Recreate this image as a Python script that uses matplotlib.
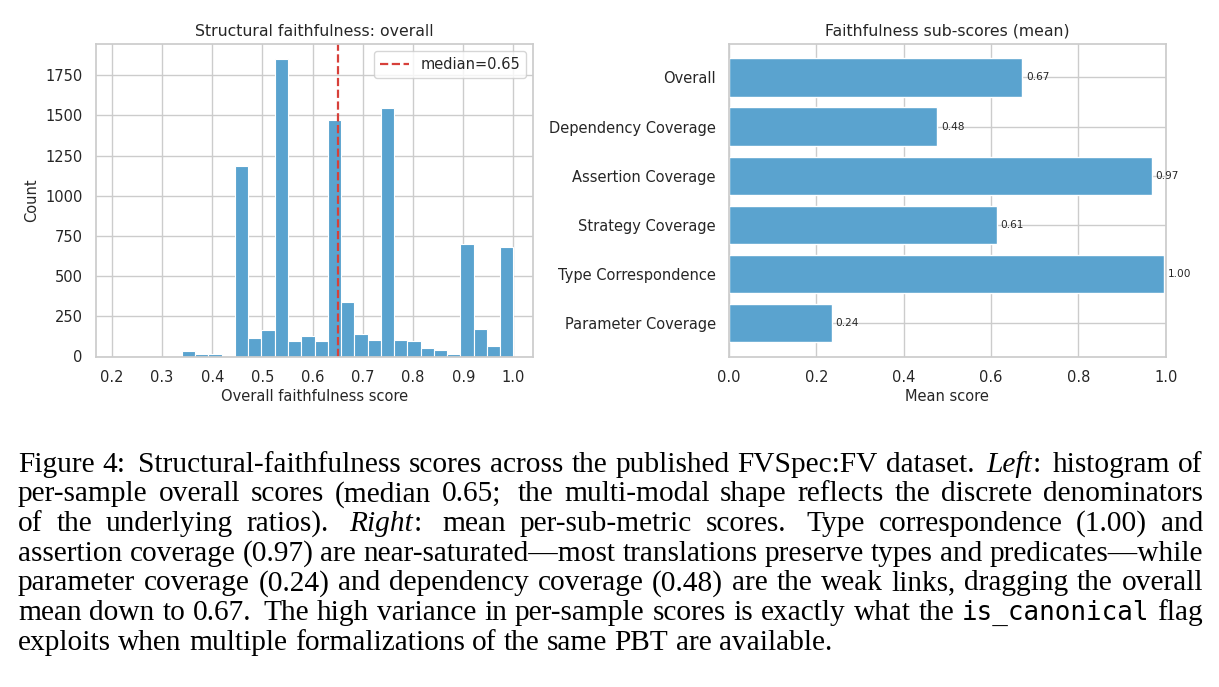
import re
import numpy as np
import matplotlib
matplotlib.use("Agg")
import matplotlib.pyplot as plt
import seaborn as sns

sns.set_theme(style="whitegrid")
plt.rcParams['font.family'] = ['DejaVu Sans']

# ---------------- data ----------------
hist_min = 0.2075
hist_max = 1.0
n_bins = 30
hist_counts = [0, 0, 0, 0, 0, 33, 15, 13, 0, 1184,
               117, 163, 1852, 94, 129, 94, 1472, 342, 138, 100,
               1548, 102, 94, 52, 42, 17, 697, 169, 67, 679]
median_value = 0.65
hist_yticks = [0, 250, 500, 750, 1000, 1250, 1500, 1750]

sub_labels = ["Overall", "Dependency Coverage", "Assertion Coverage",
              "Strategy Coverage", "Type Correspondence", "Parameter Coverage"]
sub_means = [0.672, 0.477, 0.968, 0.614, 0.997, 0.236]

caption_lines = [
    "Figure 4: Structural-faithfulness scores across the published FVSpec:FV dataset. *Left*: histogram of",
    "per-sample overall scores (median 0.65; the multi-modal shape reflects the discrete denominators",
    "of the underlying ratios). *Right*: mean per-sub-metric scores. Type correspondence (1.00) and",
    "assertion coverage (0.97) are near-saturated\u2014most translations preserve types and predicates\u2014while",
    "parameter coverage (0.24) and dependency coverage (0.48) are the weak links, dragging the overall",
    "mean down to 0.67. The high variance in per-sample scores is exactly what the `is_canonical` flag",
    "exploits when multiple formalizations of the same PBT are available.",
]

# ---------------- style ----------------
BAR = "#5aa3cf"
RED = "#d7403a"
TXT = "#262626"
FS = 10.5
W, H = 1219, 687

fig = plt.figure(figsize=(W / 100, H / 100), dpi=100)

def frac_box(x0, y0, x1, y1):
    return [x0 / W, 1 - y1 / H, (x1 - x0) / W, (y1 - y0) / H]

ax1 = fig.add_axes(frac_box(95.7, 44, 533.3, 356.5))
ax2 = fig.add_axes(frac_box(729, 44, 1165.7, 356.5))

# ---- histogram ----
edges = np.linspace(hist_min, hist_max, n_bins + 1)
centers = (edges[:-1] + edges[1:]) / 2
ax1.hist(centers, bins=edges, weights=hist_counts, color=BAR,
         edgecolor="white", linewidth=0.8)
ax1.axvline(median_value, color=RED, linestyle="--", linewidth=1.6,
            label=f"median={median_value:.2f}")
ax1.set_yticks(hist_yticks)
ax1.set_xticks(np.round(np.arange(0.2, 1.01, 0.1), 1))
ax1.set_title("Structural faithfulness: overall", fontsize=11.3, color=TXT)
ax1.set_xlabel("Overall faithfulness score", fontsize=FS, color=TXT, labelpad=3)
ax1.set_ylabel("Count", fontsize=FS, color=TXT, labelpad=4)
leg = ax1.legend(loc="upper right", fontsize=FS, frameon=True)
for t in leg.get_texts():
    t.set_color(TXT)

# ---- sub-scores ----
ypos = np.arange(len(sub_labels))[::-1]
ax2.barh(ypos, sub_means, color=BAR, height=0.78)
for y, v in zip(ypos, sub_means):
    ax2.text(v + 0.008, y, f"{v:.2f}", va="center", ha="left",
             fontsize=7.6, color=TXT)
ax2.set_yticks(ypos)
ax2.set_yticklabels(sub_labels)
ax2.set_xlim(0, 1.0)
ax2.set_title("Faithfulness sub-scores (mean)", fontsize=11.3, color=TXT)
ax2.set_xlabel("Mean score", fontsize=FS, color=TXT, labelpad=3)

for ax in (ax1, ax2):
    ax.tick_params(labelsize=FS, colors=TXT, pad=3.5)
    for s in ax.spines.values():
        s.set_color("#cccccc")
        s.set_linewidth(1.25)
    ax.grid(True, color="#cccccc", linewidth=1)
    ax.set_axisbelow(True)

# ---------------- caption (justified) ----------------
CAP_FS = 21.2
styles = {
    "rm": dict(family=["Liberation Serif", "DejaVu Serif"], style="normal", fontsize=CAP_FS),
    "it": dict(family=["Liberation Serif", "DejaVu Serif"], style="italic", fontsize=CAP_FS),
    "tt": dict(family=["DejaVu Sans Mono", "Liberation Mono"], style="normal", fontsize=18.6),
}

fig.canvas.draw()
renderer = fig.canvas.get_renderer()

def measure(s, st):
    t = fig.text(0, 0, s, **styles[st])
    w = t.get_window_extent(renderer).width
    t.remove()
    return w

def parse_word(word):
    pieces = []
    for tok in re.split(r"(\*[^*]+\*|`[^`]+`)", word):
        if not tok:
            continue
        if tok.startswith("*"):
            pieces.append((tok[1:-1], "it"))
        elif tok.startswith("`"):
            pieces.append((tok[1:-1], "tt"))
        else:
            pieces.append((tok, "rm"))
    return pieces

X_LEFT, X_RIGHT = 18.0, 1203.0
BASE0, LEAD = 471.5, 29.75
space_nat = CAP_FS * 0.25 * 100 / 72

for i, line in enumerate(caption_lines):
    words = [parse_word(w) for w in line.split(" ")]
    widths = [[measure(s, st) for s, st in w] for w in words]
    totals = [sum(ws) for ws in widths]
    weights = []
    for w in words[:-1]:
        last = w[-1][0][-1]
        weights.append(1.5 if last in ".:;" else 1.0)
    justify = i < len(caption_lines) - 1
    if justify:
        g = (X_RIGHT - X_LEFT - sum(totals)) / sum(weights)
        gaps = [g * wt for wt in weights]
    else:
        gaps = [space_nat] * len(weights)
    x = X_LEFT
    y = 1 - (BASE0 + i * LEAD) / H
    for k, (w, ws) in enumerate(zip(words, widths)):
        for (s, st), pw in zip(w, ws):
            fig.text(x / W, y, s, va="baseline", ha="left",
                     color="black", **styles[st])
            x += pw
        if k < len(gaps):
            x += gaps[k]

fig.savefig("out.png", dpi=100)
